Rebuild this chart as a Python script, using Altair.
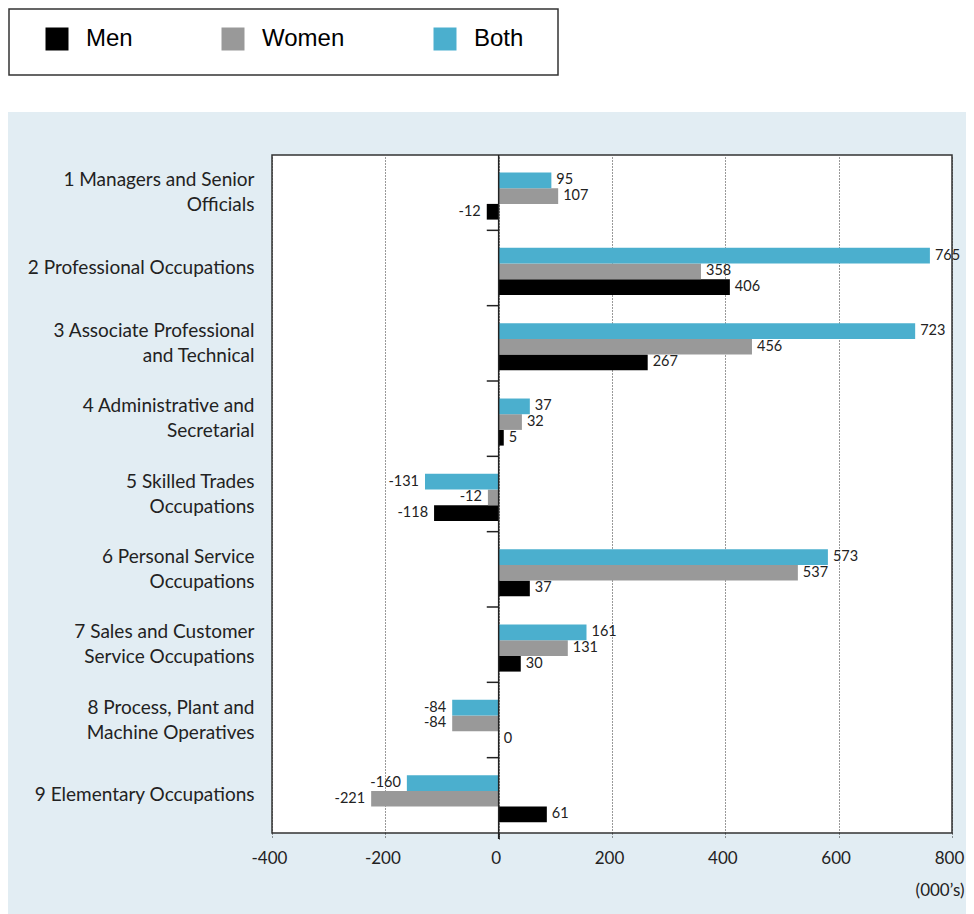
import altair as alt
import pandas as pd

categories = [
    "1 Managers and Senior|Officials",
    "2 Professional Occupations",
    "3 Associate Professional|and Technical",
    "4 Administrative and|Secretarial",
    "5 Skilled Trades|Occupations",
    "6 Personal Service|Occupations",
    "7 Sales and Customer|Service Occupations",
    "8 Process, Plant and|Machine Operatives",
    "9 Elementary Occupations",
]
series = ["Men", "Women", "Both"]
series_colors = ["#000000", "#999999", "#4BAFCE"]
bar_order = ["Both", "Women", "Men"]

# bar lengths as drawn (000's)
men_values = [-21, 408, 263, 9, -114, 55, 39, 0, 85]
women_values = [105, 357, 447, 41, -19, 528, 122, -82, -225]
both_values = [93, 761, 735, 55, -130, 581, 155, -82, -162]

# printed data labels
men_labels = ["-12", "406", "267", "5", "-118", "37", "30", "0", "61"]
women_labels = ["107", "358", "456", "32", "-12", "537", "131", "-84", "-221"]
both_labels = ["95", "765", "723", "37", "-131", "573", "161", "-84", "-160"]

x_ticks = [-400, -200, 0, 200, 400, 600, 800]
x_title = "(000\u2019s)"

rows = []
for s, vals, labs in [("Men", men_values, men_labels),
                      ("Women", women_values, women_labels),
                      ("Both", both_values, both_labels)]:
    for c, v, l in zip(categories, vals, labs):
        rows.append({"category": c, "series": s, "value": v, "label": l})
df = pd.DataFrame(rows)

W, H = 680, 678
PAD_L, PAD_T, PAD_R, PAD_B = 264, 147, 14, 81
FONT = "Lato"
TXT = "#222222"
LINE = "#333333"

y_scale = alt.Scale(domain=categories, paddingInner=0, paddingOuter=0)
y_axis = alt.Axis(
    title=None, domain=False, ticks=False, tickSize=0, labelPadding=18,
    labelFont=FONT, labelFontSize=19, labelColor=TXT, labelLimit=400,
    labelExpr="split(datum.label, '|')", labelLineHeight=25,
    labelOffset={"condition": {"test": "indexof(datum.value, '|') >= 0", "value": -12.5},
                 "value": 0},
)
x_scale = alt.Scale(domain=[-400, 800], nice=False, zero=False)
x_axis = alt.Axis(
    values=x_ticks, domain=False, grid=True, gridDash=[1, 2], gridColor=LINE,
    gridWidth=1, ticks=True, tickSize=6, tickColor=LINE, tickWidth=1,
    tickDash={"condition": {"test": "datum.value === 0", "value": [2, 0]}, "value": [1, 2]},
    labelFont=FONT, labelFontSize=17, labelColor=TXT, labelPadding=11,
    labelOffset=-3,
    labelFlush=False, labelExpr="datum.value + ''",
    title=x_title, titleFont=FONT, titleFontSize=17, titleFontWeight="normal",
    titleColor=TXT, titleX=692, titleY=57, titleAlign="right",
    titleBaseline="middle", titleAngle=0,
)

y_enc = alt.Y("category:N", scale=y_scale, axis=y_axis)
yoff_enc = alt.YOffset(
    "series:N",
    scale=alt.Scale(domain=bar_order, paddingInner=0, paddingOuter=0.9, align=0.62),
)
x_enc = alt.X("value:Q", scale=x_scale, axis=x_axis, title=x_title)

base = alt.Chart(df)

bars = base.mark_bar().encode(
    x=x_enc,
    y=y_enc,
    yOffset=yoff_enc,
    color=alt.Color(
        "series:N",
        scale=alt.Scale(domain=series, range=series_colors),
        legend=alt.Legend(
            title=None, orient="none", legendX=-227, legendY=-128,
            direction="horizontal", symbolType="square", symbolSize=529,
            symbolStrokeWidth=0, symbolOpacity=1, labelFont="Liberation Sans",
            labelFontSize=24, labelColor="#000000", labelOffset=17,
            columnPadding=88, padding=0, zindex=2,
        ),
    ),
)

pos_text = base.transform_filter("datum.value >= 0").mark_text(
    align="left", baseline="middle", dx=5, font=FONT, fontSize=14.5, color=TXT
).encode(x=x_enc, y=y_enc, yOffset=yoff_enc, text="label:N")

neg_text = base.transform_filter("datum.value < 0").mark_text(
    align="right", baseline="middle", dx=-6, font=FONT, fontSize=14.5, color=TXT
).encode(x=x_enc, y=y_enc, yOffset=yoff_enc, text="label:N")

one = pd.DataFrame({"d": [0]})

top_white = alt.Chart(one).mark_rect(color="white").encode(
    x=alt.value(-PAD_L - 5), x2=alt.value(W + PAD_R + 5),
    y=alt.value(-PAD_T - 5), y2=alt.value(-43)
)
legend_box = alt.Chart(one).mark_rect(
    fill="white", stroke=LINE, strokeWidth=1.5
).encode(
    x=alt.value(-263), x2=alt.value(286), y=alt.value(-146), y2=alt.value(-80)
)

zero_line = alt.Chart(one).mark_rule(color=TXT, strokeWidth=1.5).encode(
    x=alt.datum(0), y=alt.value(0), y2=alt.value(H + 6)
)

band_ticks = alt.Chart(pd.DataFrame({"category": categories[1:]})).mark_rule(
    color=TXT, strokeWidth=1.5
).encode(
    y=alt.Y("category:N", scale=y_scale, bandPosition=0),
    x=alt.datum(0),
    x2=alt.datum(-21),
)

chart = alt.layer(
    top_white, legend_box, bars, pos_text, neg_text, zero_line, band_ticks
).properties(
    width=W, height=H,
    autosize=alt.AutoSizeParams(type="none"),
    padding={"left": PAD_L, "top": PAD_T, "right": PAD_R, "bottom": PAD_B},
    background="#E2EDF3",
).configure_view(
    fill="white", stroke=LINE, strokeWidth=1.5
)

chart.save("out.html", embed_options={"renderer": "svg", "actions": False})
